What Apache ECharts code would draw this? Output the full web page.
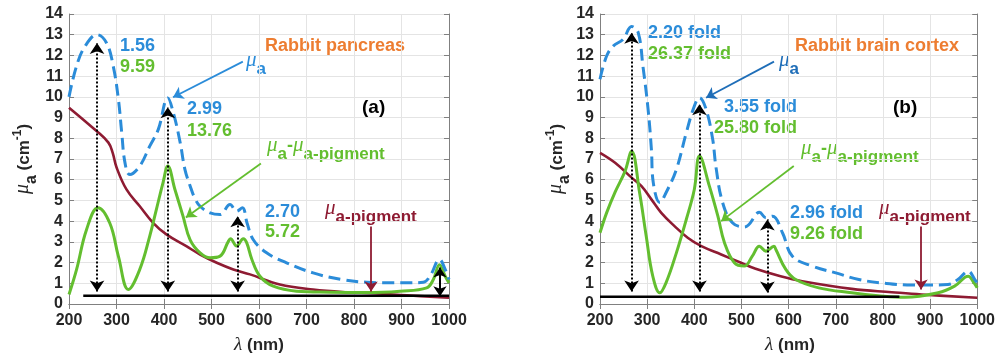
<!DOCTYPE html>
<html>
<head>
<meta charset="utf-8">
<script src="https://cdn.jsdelivr.net/npm/echarts@6/dist/echarts.min.js"></script>
<style>
  html, body { margin: 0; padding: 0; background: #fff; }
  #chart { width: 998px; height: 358px; }
</style>
</head>
<body>
<div id="chart"></div>
<script>
// ---------- Rabbit pancreas (a) ----------
const pancreasMuANm = [200,216,234,259,279,293,304,311,318,328,349,370,388,408,420,434,444,455,465,476,497,518,539,553,565,575,588,616,658,714,774,827,883,920,946,960,980,992,1000];
const pancreasMuA   = [10.0,11.5,12.45,13.0,12.6,11.5,9.88,8.27,6.8,6.25,6.66,7.62,8.43,9.95,9.2,7.8,6.5,5.7,5.1,4.72,4.4,4.32,4.8,4.48,4.65,3.9,3.1,2.47,1.99,1.5,1.18,1.05,1.02,1.02,1.05,1.34,2.15,1.67,1.18];

const pancreasDiffNm = [200,216,237,261,286,304,325,349,370,384,398,408,423,440,455,476,497,518,535,540,553,567,574,585,602,630,679,749,827,897,953,967,980,992,1000];
const pancreasDiff   = [0.46,1.67,3.6,4.65,3.9,2.3,0.7,1.67,3.28,4.57,5.86,6.66,5.53,4.24,3.1,2.47,2.23,2.31,3.0,3.15,2.8,3.15,2.96,2.15,1.34,0.86,0.62,0.57,0.55,0.62,0.78,1.18,1.9,1.34,1.02];

const pancreasPigNm = [200,258,283,292,300,321,349,377,405,447,476,511,546,581,644,714,785,841,911,1000];
const pancreasPig   = [9.48,8.35,7.79,7.3,6.6,5.53,4.72,3.92,3.36,2.79,2.39,1.99,1.67,1.43,0.94,0.7,0.57,0.52,0.42,0.3];

const pancreasBaseNm = [230, 1000];
const pancreasBase   = [0.4, 0.4];

// dotted double arrows from the baseline up to each peak
const pancreasArrowNm  = [259, 408, 555];
const pancreasArrowTop = [12.6, 9.5, 4.24];
const pancreasArrowLow = [0.6, 0.6, 0.6];
// solid double arrow at the near-infrared peak
const pancreasNirNm = [981];
const pancreasNirTop = [1.76];
const pancreasNirLow = [0.38];

// ---------- Rabbit brain cortex (b) ----------
const cortexMuANm = [200,214,228,249,267,281,291,302,309,313,327,340,362,383,400,411,425,439,446,460,481,506,534,538,552,566,587,608,650,700,749,805,861,900,938,959,981,995,1000];
const cortexMuA   = [10.85,11.97,12.45,12.78,13.4,13.1,11.49,9.4,7.46,5.86,4.9,5.37,6.5,8.27,9.55,9.96,9.4,7.95,6.6,4.9,3.92,3.72,4.4,4.43,4.16,4.24,3.44,2.31,1.83,1.5,1.18,1.0,0.92,0.92,0.94,1.18,1.58,1.18,1.02];

const cortexDiffNm = [200,214,232,253,267,284,298,312,327,340,362,383,400,411,432,450,464,485,506,523,538,552,569,573,594,615,664,734,790,847,917,952,981,991,1000];
const cortexDiff   = [3.44,4.4,5.4,6.4,7.38,5.37,3.28,1.34,0.54,1.02,2.47,4.08,5.53,7.14,5.69,4.24,2.96,1.99,1.83,2.31,2.79,2.55,2.79,2.63,1.67,1.18,0.78,0.54,0.4,0.32,0.54,0.86,1.34,1.1,0.78];

const cortexPigNm = [200,232,267,288,309,330,358,386,415,457,499,530,583,629,734,819,882,1000];
const cortexPig   = [7.3,6.82,6.1,5.69,5.05,4.4,3.76,3.2,2.79,2.39,1.99,1.7,1.34,1.1,0.73,0.57,0.46,0.3];

const cortexBaseNm = [200, 835];
const cortexBase   = [0.35, 0.35];

const cortexArrowNm  = [267, 411, 555];
const cortexArrowTop = [13.1, 9.64, 4.08];
const cortexArrowLow = [0.6, 0.6, 0.55];

// tick values
const xTicks = { min: 200, max: 1000, step: 100 };
const yTicks = { min: 0, max: 14, step: 1 };

// ---------- styling ----------
const BLUE = '#2B8CD9';
const BLUE_DARK = '#1F6EB8';
const GREEN = '#63BE2F';
const RED = '#8E1B32';
const ORANGE = '#ED7D31';
const INK = '#262626';
const SANS = '"Liberation Sans", Arial, sans-serif';
const SERIF = '"Liberation Serif", "Times New Roman", serif';

const pairs = (xs, ys) => xs.map((x, i) => [x, ys[i]]);
const seg = (x1, y1, x2, y2) => [{ coord: [x1, y1] }, { coord: [x2, y2] }];

function curve(xs, ys, axis, color, width, dash) {
  return {
    type: 'line', xAxisIndex: axis, yAxisIndex: axis,
    data: pairs(xs, ys), smooth: 0.4,
    showSymbol: false, silent: true, z: 3,
    lineStyle: { color, width, type: dash || 'solid', cap: 'butt', join: 'round' }
  };
}

function arrowSeries(axis, segs, color, width, type, symbols, size) {
  return {
    type: 'line', xAxisIndex: axis, yAxisIndex: axis, data: [], silent: true, z: 5,
    markLine: {
      silent: true, animation: false, symbol: symbols, symbolSize: size,
      label: { show: false },
      lineStyle: { color, width, type },
      emphasis: { disabled: true },
      data: segs
    }
  };
}

// Text helper: lays out pieces (mu, subscript, superscript) left to right.
const meas = document.createElement('canvas').getContext('2d');
function compose(x, y, color, pieces, base) {
  base = base || 18;
  let cx = x;
  const els = [];
  for (const [t, kind] of pieces) {
    let size = base, weight = 'bold', style = 'normal', fam = SANS, dy = 0;
    if (kind === 'mu') { size = base + 3; weight = 'normal'; style = 'italic'; fam = SERIF; dy = -1; }
    else if (kind === 'lam') { size = base + 2; weight = 'normal'; style = 'italic'; fam = SERIF; }
    else if (kind === 'sub') { size = base - 1; dy = 8; }
    else if (kind === 'sup') { size = Math.round(base * 0.7); dy = -6; }
    meas.font = `${style} ${weight} ${size}px ${fam}`;
    els.push({
      type: 'text', x: cx, y: y + dy, silent: true,
      style: { text: t, fill: color, fontSize: size, fontWeight: weight, fontStyle: style,
               fontFamily: fam, align: 'left', verticalAlign: 'middle' }
    });
    cx += meas.measureText(t).width;
  }
  return { els, width: cx - x };
}
function centered(cx, y, color, pieces, base) {
  const probe = compose(0, 0, color, pieces, base);
  return compose(cx - probe.width / 2, y, color, pieces, base).els;
}
function plain(x, y, text, color, opts) {
  opts = opts || {};
  return {
    type: 'text', x, y, silent: true,
    style: { text, fill: color, fontSize: opts.size || 18, fontWeight: 'bold', fontFamily: SANS,
             align: opts.align || 'left', verticalAlign: 'middle' }
  };
}

function xAxes(grid) {
  const common = {
    type: 'value', gridIndex: grid, min: xTicks.min, max: xTicks.max, interval: xTicks.step,
    axisLine: { show: true, lineStyle: { color: '#808080', width: 1 } },
    axisTick: { show: true, inside: true, length: 5, lineStyle: { color: '#808080' } }
  };
  return [
    Object.assign({}, common, {
      position: 'bottom',
      axisLabel: { color: INK, fontSize: 16, fontWeight: 'bold', fontFamily: SANS, margin: 9,
                   formatter: v => String(v) },
      splitLine: { show: true, lineStyle: { color: '#e4e4e4', width: 1 } }
    }),
    Object.assign({}, common, { position: 'top', axisLabel: { show: false }, splitLine: { show: false } })
  ];
}
function yAxes(grid) {
  const common = {
    type: 'value', gridIndex: grid, min: yTicks.min, max: yTicks.max, interval: yTicks.step,
    axisLine: { show: true, lineStyle: { color: '#808080', width: 1 } },
    axisTick: { show: true, inside: true, length: 5, lineStyle: { color: '#808080' } }
  };
  return [
    Object.assign({}, common, {
      position: 'left',
      axisLabel: { color: INK, fontSize: 16, fontWeight: 'bold', fontFamily: SANS, margin: 6,
                   formatter: v => String(v) },
      splitLine: { show: true, lineStyle: { color: '#e4e4e4', width: 1 } }
    }),
    Object.assign({}, common, { position: 'right', axisLabel: { show: false }, splitLine: { show: false } })
  ];
}

function yTitle(cx, cy) {
  const pieces = [['μ', 'mu'], ['a', 'sub'], [' (cm', 'n'], ['-1', 'sup'], [')', 'n']];
  const probe = compose(0, 0, INK, pieces, 17);
  return {
    type: 'group', x: cx, y: cy, rotation: Math.PI / 2, silent: true,
    children: compose(-probe.width / 2, 0, INK, pieces, 17).els
  };
}

const dotted = [2, 2];
const dashed = [12, 6];
const A = 0, B = 2; // axis indices of the two panels

const series = [
  // panel (a)
  curve(pancreasPigNm, pancreasPig, A, RED, 2.6),
  curve(pancreasDiffNm, pancreasDiff, A, GREEN, 3),
  curve(pancreasMuANm, pancreasMuA, A, BLUE, 3, dashed),
  curve(pancreasBaseNm, pancreasBase, A, '#000', 2.5),
  arrowSeries(A, pancreasArrowNm.map((x, i) => seg(x, pancreasArrowLow[i], x, pancreasArrowTop[i])),
              '#000', 2, dotted, ['arrow', 'arrow'], 11),
  arrowSeries(A, pancreasNirNm.map((x, i) => seg(x, pancreasNirLow[i], x, pancreasNirTop[i])),
              '#000', 2, 'solid', ['arrow', 'arrow'], 10),
  arrowSeries(A, [seg(566, 11.7, 419, 9.98)], BLUE, 1.8, 'solid', ['none', 'arrow'], 10),
  arrowSeries(A, [seg(604, 6.78, 446, 4.18)], GREEN, 1.8, 'solid', ['none', 'arrow'], 10),
  arrowSeries(A, [seg(836, 3.74, 836, 0.6)], RED, 1.8, 'solid', ['none', 'arrow'], 10),
  // panel (b)
  curve(cortexPigNm, cortexPig, B, RED, 2.6),
  curve(cortexDiffNm, cortexDiff, B, GREEN, 3),
  curve(cortexMuANm, cortexMuA, B, BLUE, 3, dashed),
  curve(cortexBaseNm, cortexBase, B, '#000', 2.5),
  arrowSeries(B, cortexArrowNm.map((x, i) => seg(x, cortexArrowLow[i], x, cortexArrowTop[i])),
              '#000', 2, dotted, ['arrow', 'arrow'], 11),
  arrowSeries(B, [seg(569, 11.7, 425, 9.96)], BLUE_DARK, 1.8, 'solid', ['none', 'arrow'], 10),
  arrowSeries(B, [seg(611, 6.66, 457, 4.0)], GREEN, 1.8, 'solid', ['none', 'arrow'], 10),
  arrowSeries(B, [seg(881, 3.74, 881, 0.7)], RED, 1.8, 'solid', ['none', 'arrow'], 10)
];

const graphics = [].concat(
  // panel (a) annotations
  [plain(120, 46, '1.56', BLUE), plain(120, 67, '9.59', GREEN),
   plain(187, 109, '2.99', BLUE), plain(187, 131, '13.76', GREEN),
   plain(265, 212, '2.70', BLUE), plain(265, 232, '5.72', GREEN),
   plain(265, 46, 'Rabbit pancreas', ORANGE),
   plain(362, 108, '(a)', '#000', { size: 19 })],
  compose(246, 61, BLUE, [['μ', 'mu'], ['a', 'sub']]).els,
  compose(267, 146, GREEN, [['μ', 'mu'], ['a', 'sub'], ['-', 'n'], ['μ', 'mu'], ['a-pigment', 'sub']]).els,
  compose(325, 209, RED, [['μ', 'mu'], ['a-pigment', 'sub']]).els,
  centered(259, 345, INK, [['λ', 'lam'], [' (nm)', 'n']], 17),
  [yTitle(24, 159)],
  // panel (b) annotations
  [plain(648, 33, '2.20 fold', BLUE), plain(648, 54, '26.37 fold', GREEN),
   plain(797, 107, '3.55 fold', BLUE, { align: 'right' }), plain(797, 128, '25.80 fold', GREEN, { align: 'right' }),
   plain(790, 213, '2.96 fold', BLUE), plain(790, 234, '9.26 fold', GREEN),
   plain(795, 46, 'Rabbit brain cortex', ORANGE),
   plain(893, 108, '(b)', '#000', { size: 19 })],
  compose(779, 61, BLUE_DARK, [['μ', 'mu'], ['a', 'sub']]).els,
  compose(801, 149, GREEN, [['μ', 'mu'], ['a', 'sub'], ['-', 'n'], ['μ', 'mu'], ['a-pigment', 'sub']]).els,
  compose(879, 209, RED, [['μ', 'mu'], ['a-pigment', 'sub']]).els,
  centered(790, 345, INK, [['λ', 'lam'], [' (nm)', 'n']], 17),
  [yTitle(557, 159)]
);

const chart = echarts.init(document.getElementById('chart'), null, { renderer: 'canvas' });
chart.setOption({
  animation: false,
  backgroundColor: '#fff',
  grid: [
    { left: 69, top: 14, width: 380, height: 290 },
    { left: 600, top: 14, width: 379, height: 290 }
  ],
  xAxis: [].concat(xAxes(0), xAxes(1)),
  yAxis: [].concat(yAxes(0), yAxes(1)),
  series,
  graphic: graphics
});
</script>
</body>
</html>
